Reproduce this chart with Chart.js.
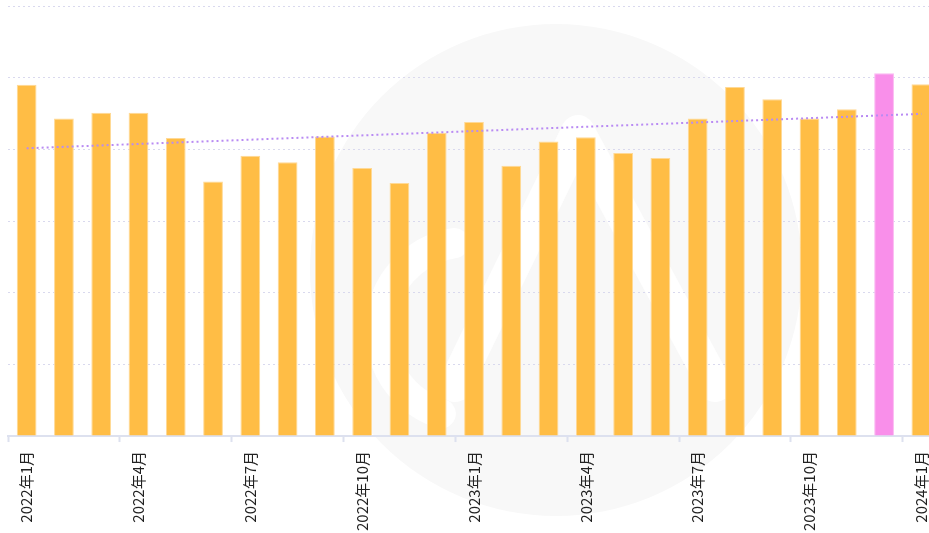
<!DOCTYPE html>
<html>
<head>
<meta charset="utf-8">
<script src="https://cdn.jsdelivr.net/npm/chart.js@4.4.1/dist/chart.umd.min.js"></script>
<style>
    body { margin: 0; background: #fff; overflow: hidden; }
    #wrap { position: absolute; left: 0; top: 0; width: 950px; height: 540px; }
</style>
</head>
<body>
<div id="wrap"><canvas id="monthly-canvas"></canvas></div>
<script>
// months shown on the x axis
const months = [
    '2022年1月', '2022年2月', '2022年3月', '2022年4月', '2022年5月', '2022年6月',
    '2022年7月', '2022年8月', '2022年9月', '2022年10月', '2022年11月', '2022年12月',
    '2023年1月', '2023年2月', '2023年3月', '2023年4月', '2023年5月', '2023年6月',
    '2023年7月', '2023年8月', '2023年9月', '2023年10月', '2023年11月', '2023年12月',
    '2024年1月'
];
const monthlyValues = [
    49.0, 44.3, 45.1, 45.1, 41.6, 35.5,
    39.1, 38.2, 41.8, 37.4, 35.3, 42.3,
    43.8, 37.7, 41.1, 41.7, 39.5, 38.8,
    44.3, 48.7, 47.0, 44.3, 45.6, 50.6,
    49.1
];
// trend line end points (first and last month)
const trendMonths = ['2022年1月', '2024年1月'];
const trendValues = [40.15, 44.95];
const highlightMonth = '2023年12月';

const ORANGE = '#ffbd45';
const PINK = '#f98fea';
const highlightIndex = months.indexOf(highlightMonth);

// faint round logo behind the plot
const watermark = {
    id: 'watermark',
    beforeDraw(chart) {
        const ctx = chart.ctx;
        ctx.save();
        ctx.fillStyle = '#f8f8f8';
        ctx.beginPath();
        ctx.arc(556, 270, 246, 0, Math.PI * 2);
        ctx.fill();
        ctx.strokeStyle = '#ffffff';
        ctx.lineCap = 'round';
        ctx.lineJoin = 'round';
        ctx.lineWidth = 30;
        ctx.beginPath();
        ctx.arc(468, 330, 88, Math.PI * 0.6, Math.PI * 1.45);
        ctx.stroke();
        ctx.lineWidth = 34;
        ctx.beginPath();
        ctx.moveTo(455, 385);
        ctx.lineTo(578, 132);
        ctx.lineTo(715, 385);
        ctx.stroke();
        ctx.restore();
    }
};

const ctx = document.getElementById('monthly-canvas').getContext('2d');
new Chart(ctx, {
    data: {
        labels: months,
        datasets: [{
            type: 'line',
            label: 'trend',
            data: trendMonths.map((m, i) => ({ x: m, y: trendValues[i] })),
            borderColor: '#b98bf3',
            borderWidth: 2,
            borderDash: [2, 3],
            pointRadius: 0,
            fill: false,
            order: 0
        }, {
            type: 'bar',
            label: 'monthly',
            data: monthlyValues,
            backgroundColor: c => c.dataIndex === highlightIndex ? PINK : ORANGE,
            borderColor: c => c.dataIndex === highlightIndex ? '#fbb8f2' : '#ffd995',
            borderWidth: 1,
            categoryPercentage: 1,
            barPercentage: 0.53,
            order: 1
        }]
    },
    options: {
        responsive: true,
        maintainAspectRatio: false,
        animation: false,
        layout: { padding: { left: 8, right: 10, top: 6, bottom: 0 } },
        plugins: {
            legend: { display: false },
            tooltip: { enabled: false }
        },
        scales: {
            x: {
                offset: true,
                grid: {
                    offset: true,
                    drawOnChartArea: false,
                    tickLength: 6,
                    tickWidth: 2,
                    tickColor: c => c.index % 3 === 0 ? '#dde1ef' : 'rgba(0,0,0,0)'
                },
                border: { color: '#dde1ef', width: 2 },
                ticks: {
                    autoSkip: false,
                    maxRotation: 90,
                    minRotation: 90,
                    padding: 9,
                    color: '#222',
                    font: { family: '"Noto Sans CJK SC", "Noto Sans", sans-serif', size: 15 },
                    callback: (v, i) => i % 3 === 0 ? months[i] : ''
                }
            },
            y: {
                min: 0,
                max: 60,
                ticks: { display: false, stepSize: 10 },
                // dotted horizontal grid lines
                border: { display: false, dash: [2, 3] },
                grid: {
                    color: '#d9d9ee',
                    lineWidth: 1,
                    drawTicks: false
                }
            }
        }
    },
    plugins: [watermark]
});
</script>
</body>
</html>
